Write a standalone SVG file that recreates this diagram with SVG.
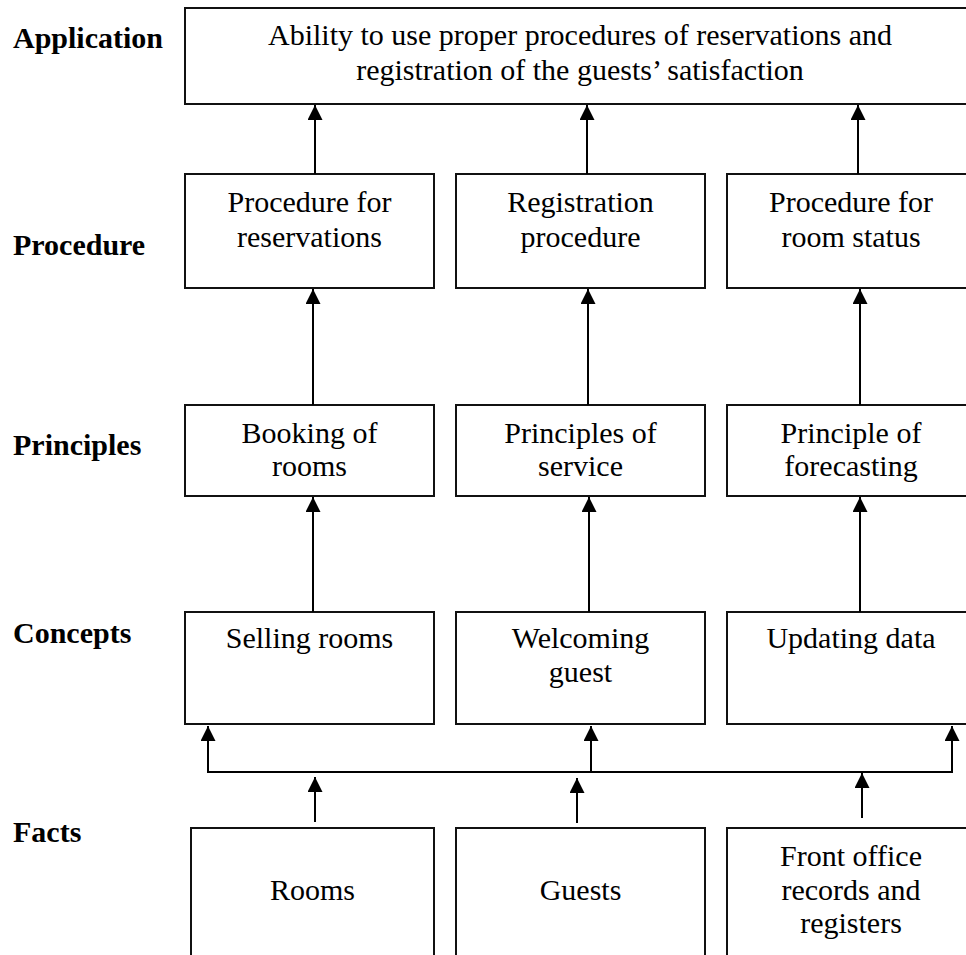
<svg xmlns="http://www.w3.org/2000/svg" width="966" height="955" viewBox="0 0 966 955">
<style>
.box{fill:#fff;stroke:#111;stroke-width:2}
.t{font-family:"Liberation Serif","Times New Roman",serif;font-size:30px;fill:#000;text-anchor:middle}
.lbl{font-family:"Liberation Serif","Times New Roman",serif;font-size:30px;font-weight:bold;fill:#000}
.c{stroke:#000;stroke-width:2;fill:none}
.a{stroke:#000;stroke-width:2;fill:none;marker-end:url(#ah)}
</style>
<defs>
<marker id="ah" markerUnits="userSpaceOnUse" markerWidth="15" markerHeight="15" refX="15" refY="7.5" orient="auto" viewBox="0 0 15 15">
<path d="M0,0 L15,7.5 L0,15 z" fill="#000"/>
</marker>
</defs>
<rect width="966" height="955" fill="#fff"/>
<g id="labels">
<text class="lbl" x="13" y="48">Application</text>
<text class="lbl" x="13" y="255">Procedure</text>
<text class="lbl" x="13" y="455">Principles</text>
<text class="lbl" x="13" y="643">Concepts</text>
<text class="lbl" x="13" y="842">Facts</text>
</g>
<g id="application">
<rect class="box" x="185" y="8" width="790" height="96"/>
<text class="t" x="580" y="45">Ability to use proper procedures of reservations and</text>
<text class="t" x="580" y="80">registration of the guests’ satisfaction</text>
</g>
<g id="proc1">
<rect class="box" x="185" y="174" width="249" height="114"/>
<text class="t" x="309.5" y="212">Procedure for</text>
<text class="t" x="309.5" y="247">reservations</text>
</g>
<g id="proc2">
<rect class="box" x="456" y="174" width="249" height="114"/>
<text class="t" x="580.5" y="212">Registration</text>
<text class="t" x="580.5" y="247">procedure</text>
</g>
<g id="proc3">
<rect class="box" x="727" y="174" width="249" height="114"/>
<text class="t" x="851" y="212">Procedure for</text>
<text class="t" x="851" y="247">room status</text>
</g>
<g id="princ1">
<rect class="box" x="185" y="405" width="249" height="91"/>
<text class="t" x="309.5" y="443">Booking of</text>
<text class="t" x="309.5" y="476">rooms</text>
</g>
<g id="princ2">
<rect class="box" x="456" y="405" width="249" height="91"/>
<text class="t" x="580.5" y="443">Principles of</text>
<text class="t" x="580.5" y="476">service</text>
</g>
<g id="princ3">
<rect class="box" x="727" y="405" width="249" height="91"/>
<text class="t" x="851" y="443">Principle of</text>
<text class="t" x="851" y="476">forecasting</text>
</g>
<g id="conc1">
<rect class="box" x="185" y="612" width="249" height="112"/>
<text class="t" x="309.5" y="648">Selling rooms</text>
</g>
<g id="conc2">
<rect class="box" x="456" y="612" width="249" height="112"/>
<text class="t" x="580.5" y="648">Welcoming</text>
<text class="t" x="580.5" y="682">guest</text>
</g>
<g id="conc3">
<rect class="box" x="727" y="612" width="249" height="112"/>
<text class="t" x="851" y="648">Updating data</text>
</g>
<g id="fact1">
<path class="box" d="M191,960 V828 H434 V960"/>
<text class="t" x="312.5" y="900">Rooms</text>
</g>
<g id="fact2">
<path class="box" d="M456,960 V828 H705 V960"/>
<text class="t" x="580.5" y="900">Guests</text>
</g>
<g id="fact3">
<path class="box" d="M727,960 V828 H980"/>
<text class="t" x="851" y="866">Front office</text>
<text class="t" x="851" y="900">records and</text>
<text class="t" x="851" y="933">registers</text>
</g>
<g id="connectors">
<line class="a" x1="315" y1="174" x2="315" y2="105"/>
<line class="a" x1="587" y1="174" x2="587" y2="105"/>
<line class="a" x1="858" y1="174" x2="858" y2="105"/>
<line class="a" x1="313" y1="405" x2="313" y2="289"/>
<line class="a" x1="588" y1="405" x2="588" y2="289"/>
<line class="a" x1="860" y1="405" x2="860" y2="289"/>
<line class="a" x1="313" y1="612" x2="313" y2="497"/>
<line class="a" x1="589" y1="612" x2="589" y2="497"/>
<line class="a" x1="860" y1="612" x2="860" y2="497"/>
<line class="c" x1="207" y1="772" x2="953" y2="772"/>
<line class="a" x1="208" y1="773" x2="208" y2="726"/>
<line class="a" x1="591" y1="773" x2="591" y2="726"/>
<line class="a" x1="952" y1="773" x2="952" y2="726"/>
<line class="a" x1="315" y1="822" x2="315" y2="777"/>
<line class="a" x1="577" y1="823" x2="577" y2="778"/>
<line class="a" x1="862" y1="818" x2="862" y2="773"/>
</g>
</svg>
